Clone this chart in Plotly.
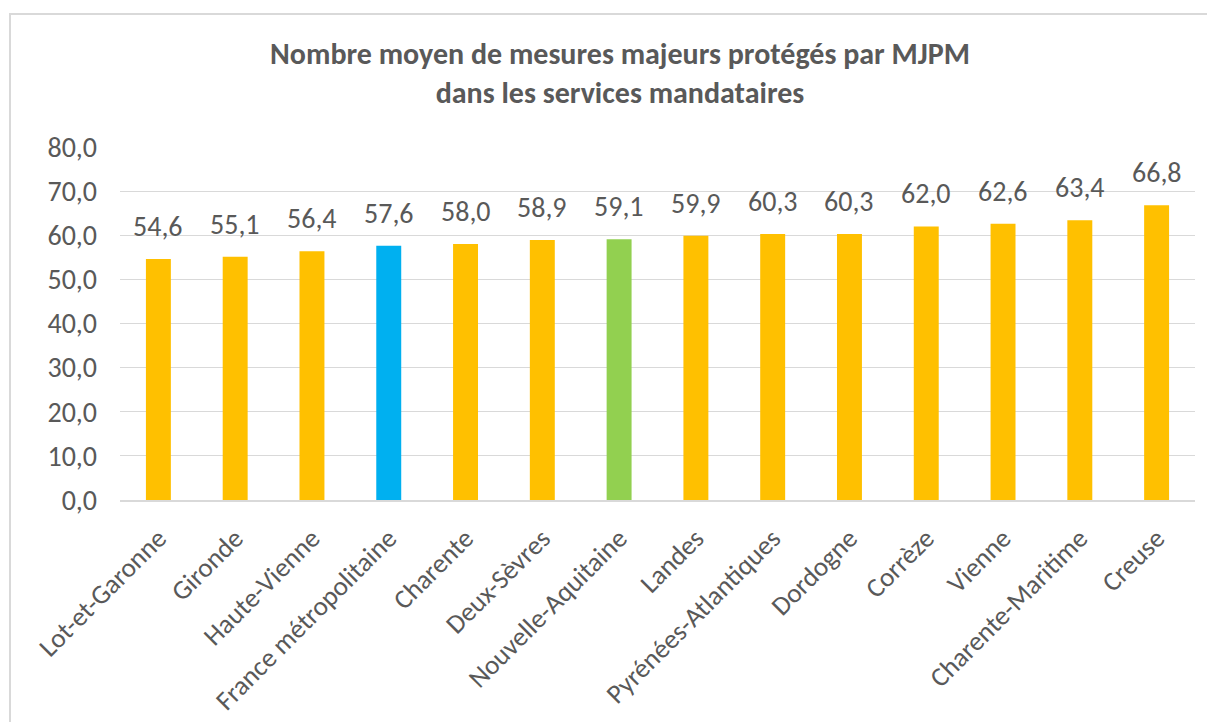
import plotly.graph_objects as go

categories = ["Lot-et-Garonne", "Gironde", "Haute-Vienne", "France métropolitaine", "Charente",
              "Deux-Sèvres", "Nouvelle-Aquitaine", "Landes", "Pyrénées-Atlantiques", "Dordogne",
              "Corrèze", "Vienne", "Charente-Maritime", "Creuse"]
values = [54.6, 55.1, 56.4, 57.6, 58.0, 58.9, 59.1, 59.9, 60.3, 60.3, 62.0, 62.6, 63.4, 66.8]
bar_colors = ["#FFC000", "#FFC000", "#FFC000", "#00B0F0", "#FFC000", "#FFC000", "#92D050",
              "#FFC000", "#FFC000", "#FFC000", "#FFC000", "#FFC000", "#FFC000", "#FFC000"]
y_ticks = [0, 10, 20, 30, 40, 50, 60, 70, 80]

FONT = "Carlito, Calibri, Lato, sans-serif"
GREY = "#595959"

# page body has an 8px margin -> figure coordinates are screen minus 8
OFF = 8
W, H = 1215 - OFF, 722 - OFF
L = 120 - OFF
T = 147 - OFF
R = W - (1195 - OFF)
B = H - (500 - OFF)
pw, ph = W - L - R, H - T - B


def px_x(x):
    return (x - OFF - L) / pw


def px_y(y):
    return (H - B - (y - OFF)) / ph


fig = go.Figure(go.Bar(
    x=categories, y=values,
    marker=dict(color=bar_colors, line=dict(width=0)),
    hoverinfo="skip",
))

annotations = [
    dict(x=c, y=v, xref="x", yref="y", text=f"{v:.1f}".replace(".", ","),
         showarrow=False, yanchor="bottom", yshift=13,
         font=dict(family=FONT, size=28, color=GREY))
    for c, v in zip(categories, values)
]

fig.update_layout(
    width=W, height=H,
    margin=dict(l=L, r=R, t=T, b=B, autoexpand=False),
    paper_bgcolor="white", plot_bgcolor="white",
    separators=", ",
    bargap=0.675,
    showlegend=False,
    font=dict(family=FONT, color=GREY),
    title=dict(
        text="<b>Nombre moyen de mesures majeurs protégés par MJPM<br>dans les services mandataires</b>",
        font=dict(family=FONT, size=30, color=GREY),
        x=px_x(620), xref="paper", xanchor="center",
        y=1 - (64 - OFF) / H, yref="container", yanchor="top",
    ),
    xaxis=dict(
        tickangle=-45, tickfont=dict(family=FONT, size=27, color=GREY),
        showgrid=False, showline=True, linecolor="#D9D9D9", linewidth=1.5,
        ticks="", zeroline=False, ticklabelstandoff=10, automargin=False,
    ),
    yaxis=dict(
        range=[0, 80], tickvals=y_ticks, tickformat=".1f",
        tickfont=dict(family=FONT, size=28, color=GREY),
        showgrid=True, gridcolor="#D9D9D9", gridwidth=1,
        zeroline=False, showline=False, ticks="", ticklabelstandoff=22,
        automargin=False,
    ),
    annotations=annotations,
    shapes=[dict(
        type="rect", xref="paper", yref="paper",
        x0=px_x(10), x1=px_x(1240), y0=px_y(14), y1=px_y(760),
        line=dict(color="#D9D9D9", width=2), fillcolor="rgba(0,0,0,0)", layer="below",
    )],
)

fig.write_html("out.html")
